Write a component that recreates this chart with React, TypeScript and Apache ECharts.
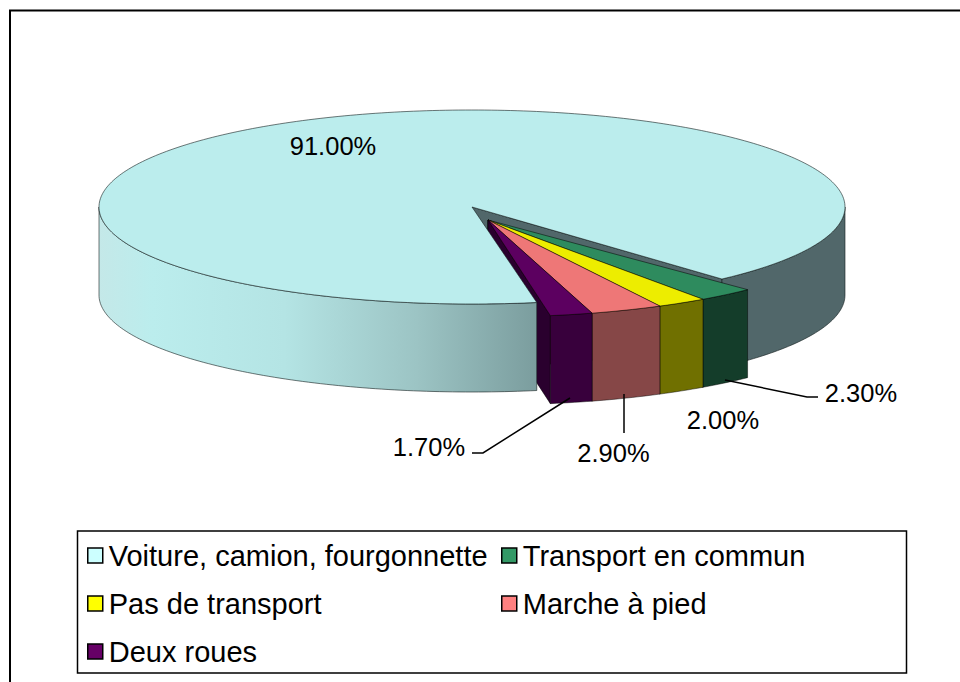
import React, { useEffect, useRef } from "react";
import * as echarts from "echarts";

const categories = ["Voiture, camion, fourgonnette", "Transport en commun", "Pas de transport", "Marche à pied", "Deux roues"];
const shares = [91.0, 2.3, 2.0, 2.9, 1.7];

const swatchColors = ["#ccffff", "#339966", "#ffff00", "#ff8080", "#660066"];
const topColors = ["#bbeded", "#2e8b5e", "#eded00", "#ee7777", "#5c0060"];
const rimColors = ["#51676a", "#143d2a", "#707000", "#864747", "#38003c"];
const wallColors = ["#51676a", "#0f2e20", "#555500", "#5f3232", "#2a002e"];

const FONT = '"Liberation Sans", Arial, sans-serif';
const LABEL_SIZE = 25.5;
const LEGEND_SIZE = 29;
const CX = 472, CY = 207, RX = 373, RY = 97, DEPTH = 88;
const EXPLODE_X = 16, EXPLODE_Y = 13;
const START_ANGLE = 80;
// the exploded wedges are seen a little wider through the chart's perspective
const WEDGE_PIVOT = 75, WEDGE_STRETCH = 1.075;
const EDGE = "rgba(20,30,30,0.6)";

const labelPos = [[333, 146], [861, 393], [723, 420], [613.5, 453], [429, 447]];
const leaders: number[][][] = [
  [],
  [[725, 380], [807, 397], [818, 397]],
  [],
  [[624, 394], [624, 433]],
  [[570, 398], [483, 453], [472, 453]],
];
const legendPos = [[87, 0], [501, 0], [87, 1], [501, 1], [87, 2]];
const legendRows = [541, 589, 637];

const total = shares.reduce((a, b) => a + b, 0);
const cumulative = shares.map((_, i) => shares.slice(0, i).reduce((a, b) => a + b, 0));

function pt(cx: number, cy: number, deg: number, dz = 0) {
  const r = (deg * Math.PI) / 180;
  return [cx + RX * Math.cos(r), cy + RY * Math.sin(r) + dz];
}
function arc(cx: number, cy: number, a: number, b: number, dz = 0) {
  const out: number[][] = [];
  const n = Math.max(2, Math.ceil(Math.abs(b - a) / 1));
  for (let k = 0; k <= n; k++) out.push(pt(cx, cy, a + ((b - a) * k) / n, dz));
  return out;
}
function rimPoly(cx: number, cy: number, a: number, b: number) {
  return [...arc(cx, cy, a, b), ...arc(cx, cy, b, a, DEPTH)];
}
const wedgeAngle = (t: number) => {
  const m = ((t % 360) + 360) % 360;
  return WEDGE_PIVOT + (m - WEDGE_PIVOT) * WEDGE_STRETCH;
};

const leftRimGradient = new echarts.graphic.LinearGradient(
  CX - RX, 0, 540, 0,
  [
    { offset: 0, color: "#c4e8e8" },
    { offset: 0.12, color: "#bbeded" },
    { offset: 0.42, color: "#b4e4e4" },
    { offset: 0.72, color: "#9cc4c4" },
    { offset: 1, color: "#7a9c9d" },
  ],
  true
);

function makeRenderItem(i: number) {
  return (_params: any, api: any) => {
    const value = api.value(0);
    const raw0 = START_ANGLE + (cumulative[i] / total) * 360;
    const raw1 = raw0 + (value / total) * 360;
    const big = i === 0;
    const a0 = big ? raw0 : wedgeAngle(raw0);
    const a1 = big ? raw1 : wedgeAngle(raw1);
    const cx = big ? CX : CX + EXPLODE_X;
    const cy = big ? CY : CY + EXPLODE_Y;
    const children: any[] = [];
    const end = pt(cx, cy, a1);
    // end wall
    children.push({
      type: "polygon",
      z2: big ? 0 : 1,
      shape: { points: [[cx, cy], end, [end[0], end[1] + DEPTH], [cx, cy + DEPTH]] },
      style: { fill: wallColors[i], stroke: big ? EDGE : "rgba(0,0,0,0.5)", lineWidth: 1 },
    });
    // front rim
    if (big) {
      children.push({
        type: "polygon",
        z2: 2,
        shape: { points: rimPoly(cx, cy, a0, 180) },
        style: { fill: leftRimGradient, stroke: EDGE, lineWidth: 1 },
      });
      children.push({
        type: "polygon",
        z2: 2,
        shape: { points: rimPoly(cx, cy, 360, a1) },
        style: { fill: rimColors[0], stroke: EDGE, lineWidth: 1 },
      });
    } else {
      children.push({
        type: "polygon",
        z2: 4,
        shape: { points: rimPoly(cx, cy, a0, a1) },
        style: { fill: rimColors[i], stroke: "rgba(0,0,0,0.45)", lineWidth: 1 },
      });
    }
    // top face
    children.push({
      type: "polygon",
      z2: big ? 3 : 5,
      shape: { points: [[cx, cy], ...arc(cx, cy, a0, a1)] },
      style: { fill: topColors[i], stroke: big ? EDGE : "rgba(0,0,0,0.5)", lineWidth: 1 },
    });
    // leader
    if (leaders[i].length) {
      children.push({
        type: "polyline",
        z2: 6,
        shape: { points: leaders[i] },
        style: { fill: "none", stroke: "#000", lineWidth: 1.5 },
      });
    }
    // value label
    children.push({
      type: "text",
      z2: 7,
      style: {
        x: labelPos[i][0],
        y: labelPos[i][1],
        text: value.toFixed(2) + "%",
        fill: "#000",
        font: `${LABEL_SIZE}px ${FONT}`,
        align: "center",
        verticalAlign: "middle",
        textAlign: "center",
        textVerticalAlign: "middle",
      },
    });
    return { type: "group", children };
  };
}

export default function App() {
  const ref = useRef<HTMLDivElement>(null);
  useEffect(() => {
    const chart = echarts.init(ref.current!, null, { renderer: "svg" });
    chart.setOption({
      animation: false,
      backgroundColor: "#fff",
      legend: categories.map((name, i) => ({
        data: [name],
        left: legendPos[i][0],
        top: legendRows[legendPos[i][1]],
        padding: 0,
        icon: "rect",
        itemWidth: 15,
        itemHeight: 15,
        itemGap: 0,
        selectedMode: false,
        itemStyle: { color: swatchColors[i], borderColor: "#000", borderWidth: 1.5 },
        textStyle: { color: "#000", fontFamily: FONT, fontSize: LEGEND_SIZE, padding: [0, 0, 0, 1] },
      })),
      series: categories.map((name, i) => ({
        type: "custom",
        name,
        coordinateSystem: "none",
        silent: true,
        itemStyle: { color: swatchColors[i] },
        renderItem: makeRenderItem(i),
        data: [shares[i]],
      })),
      graphic: [
        { type: "line", shape: { x1: 9, y1: 10.5, x2: 960, y2: 10.5 }, style: { stroke: "#000", lineWidth: 2 } },
        { type: "line", shape: { x1: 10, y1: 10, x2: 10, y2: 682 }, style: { stroke: "#000", lineWidth: 2 } },
        { type: "rect", shape: { x: 77.5, y: 531, width: 829, height: 142 }, style: { fill: "none", stroke: "#000", lineWidth: 1.5 } },
      ],
    });
    return () => chart.dispose();
  }, []);
  return <div ref={ref} style={{ position: "absolute", left: 0, top: 0, width: 960, height: 682 }} />;
}
